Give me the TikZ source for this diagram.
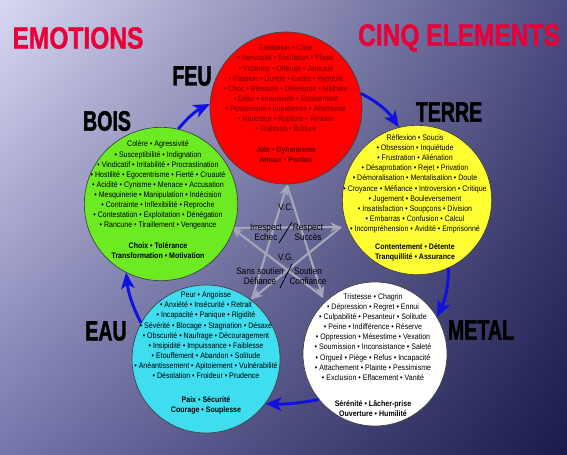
\documentclass[tikz,border=0pt]{standalone}
\usepackage{fontspec}
\setmainfont{Liberation Sans}
\newfontfamily\titlefont[FakeStretch=0.8,BoldFeatures={FakeBold=1.2}]{Liberation Sans}
\newfontfamily\labelfont[FakeStretch=0.7,BoldFeatures={FakeBold=1.5}]{Liberation Sans}
\newfontfamily\smallfont[FakeStretch=0.88]{Liberation Sans}
\usetikzlibrary{arrows.meta,shadings}

\definecolor{bgul}{RGB}{216,216,242}
\definecolor{bgur}{RGB}{76,76,130}
\definecolor{bgll}{RGB}{118,118,172}
\definecolor{bglr}{RGB}{26,26,76}
\definecolor{titlered}{RGB}{232,0,56}
\definecolor{feufill}{RGB}{255,0,0}
\definecolor{feutext}{RGB}{105,0,0}
\definecolor{boisfill}{RGB}{108,234,34}
\definecolor{terrefill}{RGB}{255,255,51}
\definecolor{eaufill}{RGB}{62,222,240}
\definecolor{starline}{RGB}{166,166,186}
\definecolor{flowblue}{RGB}{16,16,226}

\tikzset{
  disc/.style={circle, draw=black!75, line width=0.5pt, inner sep=0pt},
  emotions/.style={font=\smallfont\fontsize{6}{7.6}\selectfont, align=center, inner sep=0pt},
  element/.style={font=\labelfont\bfseries\fontsize{21}{21}\selectfont, inner sep=0pt},
  heading/.style={font=\titlefont\bfseries\fontsize{23}{23}\selectfont, text=titlered, inner sep=0pt},
  centre/.style={font=\smallfont\fontsize{7}{7.6}\selectfont, align=center, inner sep=0pt},
  stararrow/.style={draw=starline, line width=1.6pt, -{Stealth[length=8pt,width=7pt]}},
  flow/.style={draw=flowblue, line width=2.2pt, -{Stealth[length=12pt,width=10pt,inset=3pt]}}
}

\begin{document}
\begin{tikzpicture}[x=0.75pt,y=-0.75pt]

\shade[upper left=bgul, upper right=bgur, lower left=bgll, lower right=bglr] (0,0) rectangle (567,454);
\useasboundingbox (0,0) rectangle (567,454);

% headings
\node[heading] (emotions) at (78,38) {EMOTIONS};
\node[heading] (cinq) at (459,38) {CINQ ELEMENTS};

% star of control
\coordinate (sT) at (287,185);
\coordinate (sL) at (232,228);
\coordinate (sR) at (341,227);
\coordinate (sBL) at (252,299);
\coordinate (sBR) at (323,297);
\foreach \a/\b in {sL/sR, sR/sBL, sBL/sT, sT/sBR, sBR/sL}
  \draw[stararrow] (\a) -- (\b);

\node[centre] (vc) at (286,207) {V.C.};
\node[centre] (irrespect) at (266,232) {Irrespect\\Echec};
\node[centre] (respect) at (308,232) {Respect\\Succès};
\draw[black, line width=0.6pt] (279,243) -- (292,222);
\node[centre] (vg) at (286,257) {V.G.};
\node[centre] (sanssoutien) at (260,276) {Sans soutien\\Défiance};
\node[centre] (soutien) at (308,276) {Soutien\\Confiance};
\draw[black, line width=0.6pt] (280,288) -- (292,264);

% elements
\node[disc, fill=feufill, minimum size=114pt] (feu) at (286,108) {};
\node[disc, fill=boisfill, minimum size=115pt] (bois) at (161,204) {};
\node[disc, fill=terrefill, minimum size=112pt] (terre) at (417,200) {};
\node[disc, fill=eaufill, minimum size=111pt] (eau) at (206,359) {};
\node[disc, fill=white, minimum size=108pt] (metal) at (375,354) {};

\node[emotions, text=feutext] (feutxt) at (286,104) {Exaltation • Crise\\
• Nervosité • Excitation • Plaisir\\
• Violence • Offense • Jalousie\\
• Passion • Dureté • Excès • Hystérie\\
• Choc • Blessure • Désespoir • Malheur\\
• Désir • Impulsivité • Ecrasement\\
• Possession • Impatience • Amertume\\
• Rancœur • Rupture • Tension\\
• Trahison • Brûlure\\[8pt]
{\bfseries Joie • Dynamisme}\\
{\bfseries Amour • Pardon}};

\node[emotions] (boistxt) at (158,200) {Colère • Agressivité\\
• Susceptibilité • Indignation\\
• Vindicatif • Irritabilité • Procrastination\\
• Hostilité • Egocentrisme • Fierté • Cruauté\\
• Acidité • Cynisme • Menace • Accusation\\
• Mesquinerie • Manipulation • Indécision\\
• Contrainte • Inflexibilité • Reproche\\
• Contestation • Exploitation • Dénégation\\
• Rancune • Tiraillement • Vengeance\\[8pt]
{\bfseries Choix • Tolérance}\\
{\bfseries Transformation • Motivation}};

\node[emotions] (terretxt) at (415,198) {Réflexion • Soucis\\
• Obsession • Inquiétude\\
• Frustration • Aliénation\\
• Désaprobation • Rejet • Privation\\
• Démoralisation • Mentalisation • Doute\\
• Croyance • Méfiance • Introversion • Critique\\
• Jugement • Bouleversement\\
• Insatisfaction • Soupçons • Division\\
• Embarras • Confusion • Calcul\\
• Incompréhension • Avidité • Emprisonné\\[6pt]
{\bfseries Contentement • Détente}\\
{\bfseries Tranquillité • Assurance}};

\node[emotions] (eautxt) at (206,353) {Peur • Angoisse\\
• Anxiété • Insécurité • Retrait\\
• Incapacité • Panique • Rigidité\\
• Sévérité • Blocage • Stagnation • Désaxé\\
• Obscurité • Naufrage • Découragement\\
• Insipidité • Impuissance • Faiblesse\\
• Etouffement • Abandon • Solitude\\
• Anéantissement • Apitoiement • Vulnérabilité\\
• Désolation • Froideur • Prudence\\[10pt]
{\bfseries Paix • Sécurité}\\
{\bfseries Courage • Souplesse}};

\node[emotions] (metaltxt) at (373,355) {Tristesse • Chagrin\\
• Dépression • Regret • Ennui\\
• Culpabilité • Pesanteur • Solitude\\
• Peine • Indifférence • Réserve\\
• Oppression • Mésestime • Vexation\\
• Soumission • Inconsistance • Saleté\\
• Orgueil • Piège • Refus • Incapacité\\
• Attachement • Plainte • Pessimisme\\
• Exclusion • Effacement • Vanité\\[12pt]
{\bfseries Sérénité • Lâcher-prise}\\
{\bfseries Ouverture • Humilité}};

% element names
\node[element] (feulbl) at (192,76) {FEU};
\node[element] (terrelbl) at (449,112) {TERRE};
\node[element] (boislbl) at (107,121) {BOIS};
\node[element] (eaulbl) at (106,331) {EAU};
\node[element] (metallbl) at (481,330) {METAL};

% cycle of generation
\draw[flow] (feu.11) to[bend left=14] (terre.104);
\draw[flow] (terre.-65) to[bend left=12] (metal.31);
\draw[flow] (metal.-141) to[bend left=6] (eau.-37);
\draw[flow] (eau.151) to[bend left=10] (bois.-117);
\draw[flow] (bois.77) to[bend left=12] (feu.177);

\end{tikzpicture}
\end{document}
